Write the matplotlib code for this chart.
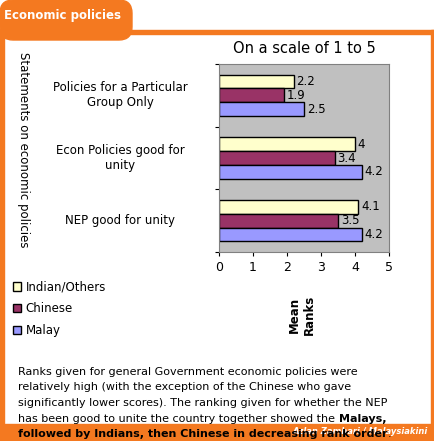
import matplotlib.pyplot as plt
import numpy as np
from matplotlib.patches import Rectangle, FancyBboxPatch

categories = ["Policies for a Particular\nGroup Only", "Econ Policies good for\nunity", "NEP good for unity"]
series = ["Indian/Others", "Chinese", "Malay"]
indian = [2.2, 4, 4.1]
chinese = [1.9, 3.4, 3.5]
malay = [2.5, 4.2, 4.2]
colors = ["#FFFFCC", "#993366", "#9999FF"]
orange = "#F47920"

fig = plt.figure(figsize=(4.35, 4.41), dpi=100)
W, H = 435, 441

def px(x, y, w, h):
    return (x / W, 1 - (y + h) / H, w / W, h / H)

# 橙色框和标题
x0, y0, w0, h0 = px(0, 0, 132, 40)
fig.patches.append(FancyBboxPatch((x0, y0), w0, h0, boxstyle="round,pad=0,rounding_size=0.03",
                                  transform=fig.transFigure, color=orange))
for r in [px(0, 30, 435, 4), px(0, 30, 4, 411), px(431, 30, 4, 411), px(0, 424, 435, 17)]:
    fig.patches.append(Rectangle(r[:2], r[2], r[3], transform=fig.transFigure, color=orange))
fig.text(4 / W, 1 - 16 / H, "Economic policies", color="white", fontsize=8.5, fontweight="bold", va="center")
fig.text(428 / W, 1 - 432 / H, "Azlan Zamhari / Malaysiakini", color="white", fontsize=6,
         fontweight="bold", fontstyle="italic", ha="right", va="center")

ax = fig.add_axes(px(219, 64, 170, 188))
ax.set_facecolor("#C0C0C0")
y = np.arange(len(categories))
h = 0.22
vals = [indian, chinese, malay]
for i, (name, v, c) in enumerate(zip(series, vals, colors)):
    pos = y + (i - 1) * h
    ax.barh(pos, v, height=h, color=c, edgecolor="black", linewidth=1, label=name)
    for p, val in zip(pos, v):
        ax.text(val + 0.08, p, f"{val:g}", va="center", fontsize=8.5)
ax.set_ylim(2.5, -0.5)
ax.set_xlim(0, 5)
ax.set_xticks(range(6))
ax.set_yticks([-0.5, 0.5, 1.5, 2.5])
ax.set_yticklabels([])
ax.tick_params(labelsize=9, length=3)
for i, c in enumerate(categories):
    ax.annotate(c, xy=(0, i), xycoords=("axes fraction", "data"), xytext=(-71, 0),
                textcoords="offset points", ha="center", va="center", fontsize=8.5)
for s in ax.spines.values():
    s.set_color("#808080")
ax.set_title("On a scale of 1 to 5", fontsize=10.5, pad=8)

fig.text(302 / W, 1 - 315 / H, "Mean\nRanks", rotation=90, fontsize=8.5, fontweight="bold",
         ha="center", va="center")
fig.text(23 / W, 1 - 150 / H, "Statements on economic policies", rotation=270, fontsize=8.5,
         ha="center", va="center")

handles, labels = ax.get_legend_handles_labels()
fig.legend(handles, labels, loc="upper left", bbox_to_anchor=(2 / W, 1 - 270 / H), frameon=False,
           fontsize=8.5, handlelength=0.7, handleheight=0.7, labelspacing=0.75, handletextpad=0.4)

fs = 8
lines = ["Ranks given for general Government economic policies were",
         "relatively high (with the exception of the Chinese who gave",
         "significantly lower scores). The ranking given for whether the NEP",
         "has been good to unite the country together showed the "]
ystart = 372
dy = 15.5
for k, t in enumerate(lines):
    txt = fig.text(18 / W, 1 - (ystart + k * dy) / H, t, fontsize=fs, va="center")
fig.canvas.draw()
bb = txt.get_window_extent()
fig.text(bb.x1 / W, 1 - (ystart + 3 * dy) / H, "Malays,", fontsize=fs, fontweight="bold", va="center")
t5 = fig.text(18 / W, 1 - (ystart + 4 * dy) / H, "followed by Indians, then Chinese in decreasing rank order",
              fontsize=fs, fontweight="bold", va="center")
fig.canvas.draw()
fig.text(t5.get_window_extent().x1 / W, 1 - (ystart + 4 * dy) / H, ".", fontsize=fs, va="center")

fig.savefig("out.png", dpi=100)
